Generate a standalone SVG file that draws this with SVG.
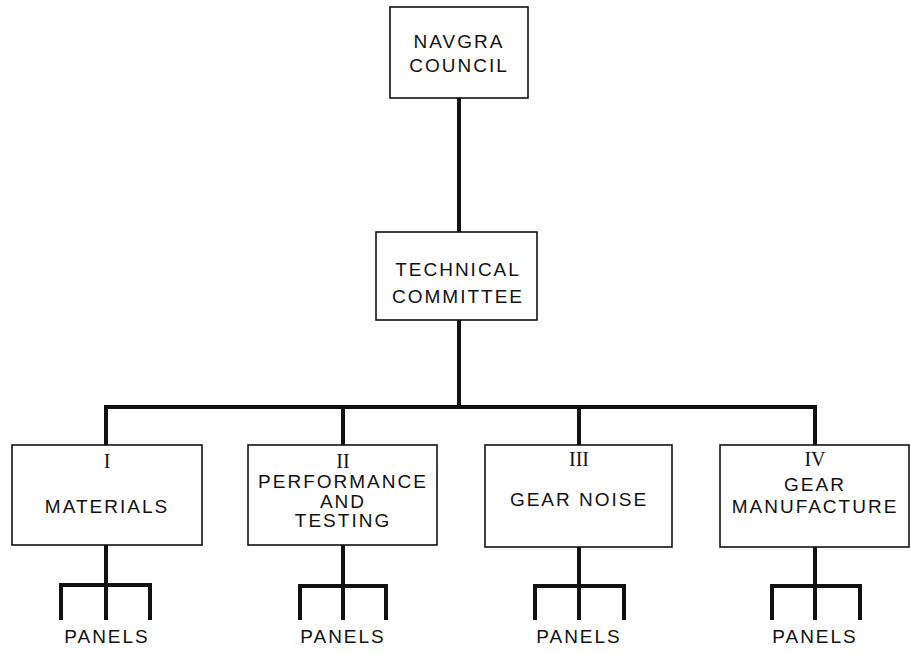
<svg xmlns="http://www.w3.org/2000/svg" width="911" height="653" viewBox="0 0 911 653">
<style>
.box{fill:#fff;stroke:#111;stroke-width:1.6}
.t{font-family:"Liberation Sans",Arial,sans-serif;font-size:19px;letter-spacing:2px;fill:#111;text-anchor:middle}
.r{font-family:"Liberation Serif","Times New Roman",serif;font-size:20px;fill:#111;text-anchor:middle}
.c{fill:none;stroke:#111;stroke-width:4;stroke-linecap:butt;stroke-linejoin:miter}
</style>
<rect width="911" height="653" fill="#fff"/>
<g id="connectors">
<path class="c" d="M459 98V232"/>
<path class="c" d="M459 320V407"/>
<path class="c" d="M106 445V407H815V445"/>
<path class="c" d="M343 407V445"/>
<path class="c" d="M579 407V445"/>
<path class="c" d="M106 545V620M61 620V585H150V620"/>
<path class="c" d="M343 545V620M300 620V586H386V620"/>
<path class="c" d="M579 547V620M535 620V586H624V620"/>
<path class="c" d="M815 547V620M772 620V586H860V620"/>
</g>
<g id="navgra-council">
<rect class="box" x="390" y="7" width="138" height="91"/>
<text class="t" x="459" y="48">NAVGRA</text>
<text class="t" x="459" y="72">COUNCIL</text>
</g>
<g id="technical-committee">
<rect class="box" x="376" y="232" width="161" height="88"/>
<text class="t" x="458" y="276">TECHNICAL</text>
<text class="t" x="458" y="303">COMMITTEE</text>
</g>
<g id="materials">
<rect class="box" x="12" y="445" width="190" height="100"/>
<text class="r" x="107" y="468">I</text>
<text class="t" x="107" y="513">MATERIALS</text>
</g>
<g id="performance">
<rect class="box" x="248" y="445" width="189" height="100"/>
<text class="r" x="343" y="468">II</text>
<text class="t" x="343" y="488">PERFORMANCE</text>
<text class="t" x="343" y="508">AND</text>
<text class="t" x="343" y="527">TESTING</text>
</g>
<g id="gear-noise">
<rect class="box" x="485" y="445" width="187" height="102"/>
<text class="r" x="579" y="466">III</text>
<text class="t" x="579" y="506">GEAR NOISE</text>
</g>
<g id="gear-manufacture">
<rect class="box" x="720" y="445" width="189" height="102"/>
<text class="r" x="815" y="466">IV</text>
<text class="t" x="815" y="491">GEAR</text>
<text class="t" x="815" y="513">MANUFACTURE</text>
</g>
<g id="panels">
<text class="t" x="107" y="643">PANELS</text>
<text class="t" x="343" y="643">PANELS</text>
<text class="t" x="579" y="643">PANELS</text>
<text class="t" x="815" y="643">PANELS</text>
</g>
</svg>
